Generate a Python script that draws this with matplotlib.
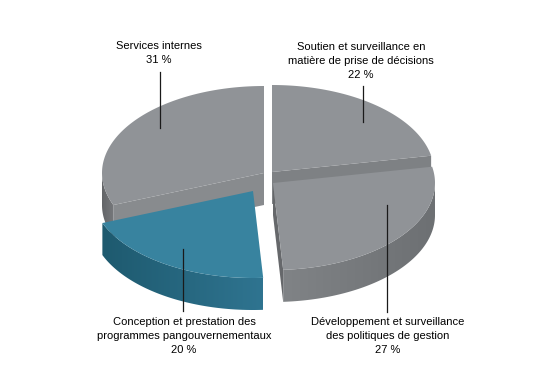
import numpy as np
import matplotlib
matplotlib.use("Agg")
import matplotlib.pyplot as plt
from matplotlib import font_manager
from matplotlib.patches import Polygon

labels = ["Services internes\n31 %",
          "Conception et prestation des\nprogrammes pangouvernementaux\n20 %",
          "Développement et surveillance\ndes politiques de gestion\n27 %",
          "Soutien et surveillance en\nmatière de prise de décisions\n22 %"]
values = [31, 20, 27, 22]

# slice centres, the pie is pulled apart
centers = [(264, 173), (253, 191), (273, 183), (272, 172)]
top_colors = ["#909397", "#38839f", "#909397", "#909397"]
wall_colors = ["#888b8e", "#2c6f88", "#66686b", "#7e8184"]
side_left = ["#636568", "#1e5a6f", "#808386", "#808386"]
side_right = ["#77797c", "#2f7490", "#6d7073", "#808386"]

rx, ry, depth = 162, 87, 32

names = [f.name for f in font_manager.fontManager.ttflist]
family = "Liberation Sans Narrow" if "Liberation Sans Narrow" in names else "Liberation Sans"
plt.rcParams["font.family"] = family

fig = plt.figure(figsize=(5.45, 3.91), dpi=100)
ax = fig.add_axes([0, 0, 1, 1])
ax.axis("off")


def point(c, deg, drop=0):
    r = np.radians(deg)
    return c[0] + rx * np.cos(r), c[1] - ry * np.sin(r) + drop


def radial_wall(c, deg, color, z):
    p = point(c, deg)
    ax.add_patch(Polygon([c, p, (p[0], p[1] + depth), (c[0], c[1] + depth)],
                         fc=color, ec="none", zorder=z))


def outer_wall(c, a0, a1, left, right, z):
    # the part of the rim that faces us, shaded left to right
    a0, a1 = max(a0, 180), min(a1, 360)
    th = np.linspace(a0, a1, 120)
    up = [point(c, d) for d in th]
    down = [(x, y + depth) for x, y in up][::-1]
    poly = Polygon(up + down, fc="none", ec="none", zorder=z)
    ax.add_patch(poly)
    xs = [p[0] for p in up]
    ys = [p[1] for p in up + down]
    cmap = matplotlib.colors.LinearSegmentedColormap.from_list("w", [left, right])
    im = ax.imshow(np.linspace(0, 1, 64).reshape(1, -1), cmap=cmap, aspect="auto",
                   extent=[min(xs), max(xs), max(ys), min(ys)], zorder=z)
    im.set_clip_path(poly)


angles = 90 + np.cumsum([0] + values) * 3.6

# services, back left
radial_wall(centers[0], angles[1], wall_colors[0], 1)
outer_wall(centers[0], angles[0], angles[1], side_left[0], side_right[0], 2)
# soutien, back right
radial_wall(centers[3], angles[3], wall_colors[3], 4)
# developpement
radial_wall(centers[2], angles[2], wall_colors[2], 5)
outer_wall(centers[2], angles[2], 360, side_left[2], side_right[2], 6)
# conception, in front
outer_wall(centers[1], angles[1], angles[2], side_left[1], side_right[1], 8)

zs = [3, 9, 7, 5]
for i in range(4):
    c = centers[i]
    pts = [c] + [point(c, d) for d in np.linspace(angles[i], angles[i + 1], 120)]
    ax.add_patch(Polygon(pts, fc=top_colors[i], ec="none", zorder=zs[i]))

# leader lines
for x, y0, y1 in [(160, 72, 128), (363, 86, 122), (387, 205, 312), (183, 249, 311)]:
    ax.plot([x, x], [y0, y1], color="#1a1a1a", lw=0.9, zorder=20)

ax.set_xlim(0, 545)
ax.set_ylim(391, 0)

fs = 8.0
ls = 1.5
ax.text(159, 41, labels[0], ha="center", va="top", fontsize=fs, linespacing=ls, color="black", zorder=21)
ax.text(361, 42, labels[3], ha="center", va="top", fontsize=fs, linespacing=ls, color="black", zorder=21)
ax.text(388, 317, labels[2], ha="center", va="top", fontsize=fs, linespacing=ls, color="black", zorder=21)
ax.text(184, 317, labels[1], ha="center", va="top", fontsize=fs, linespacing=ls, color="black", zorder=21)

fig.savefig("out.png", dpi=100)
